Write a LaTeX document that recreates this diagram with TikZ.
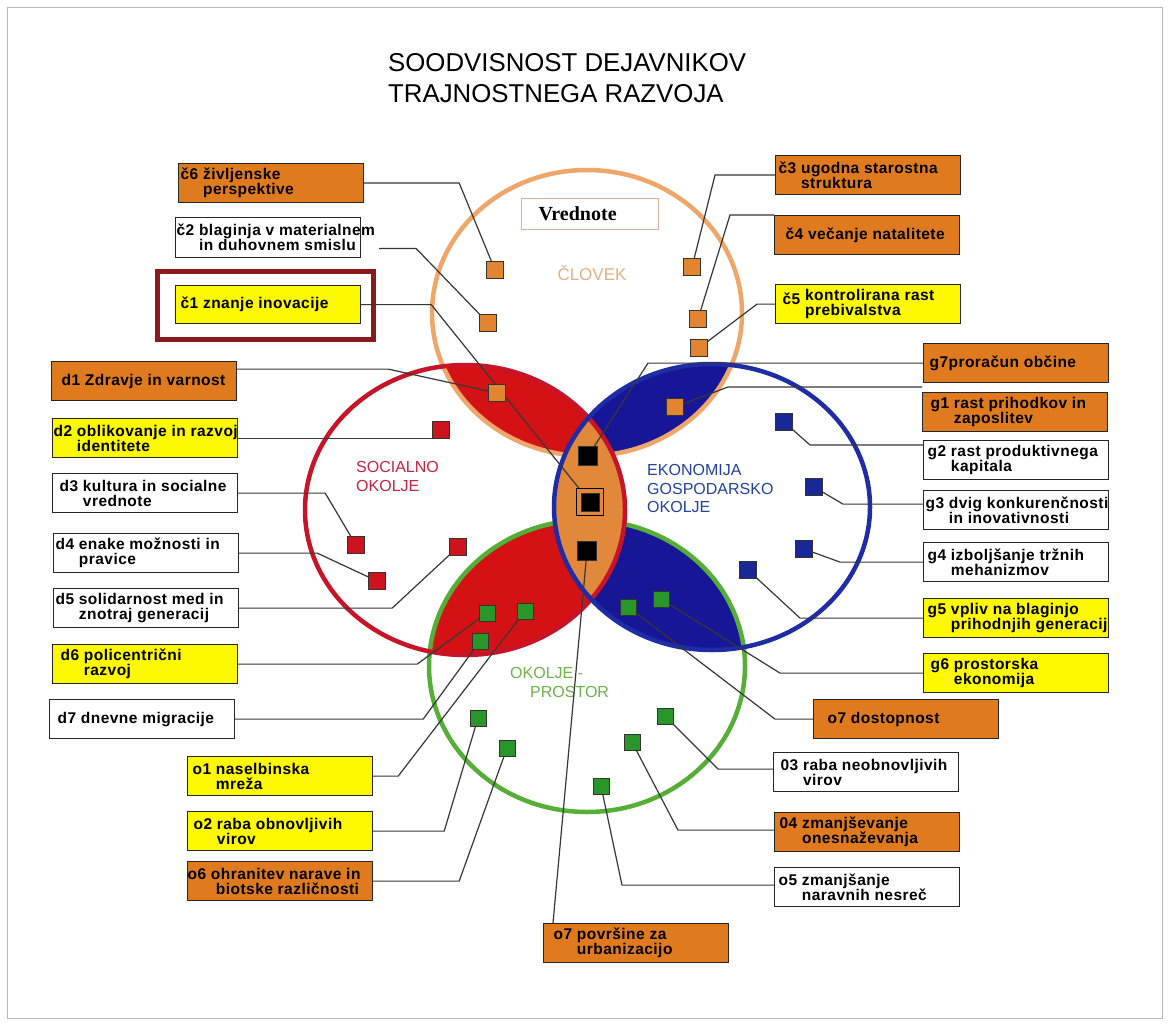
\documentclass[tikz,border=0pt]{standalone}
\usepackage{fontspec}
\setmainfont{Liberation Sans}
\newfontfamily\vrfont{Liberation Serif}
\newfontfamily\bxfont{Liberation Sans}[LetterSpace=3]
\usetikzlibrary{calc}
\definecolor{boxor}{RGB}{224,122,30}
\definecolor{boxye}{RGB}{252,248,0}
\definecolor{sqor}{RGB}{226,132,48}
\definecolor{lensred}{RGB}{212,18,22}
\definecolor{lensblue}{RGB}{22,22,150}
\definecolor{lensor}{RGB}{226,136,58}
\definecolor{ringor}{RGB}{240,165,105}
\definecolor{ringred}{RGB}{200,20,40}
\definecolor{ringblue}{RGB}{30,45,165}
\definecolor{ringgreen}{RGB}{85,175,55}
\definecolor{sqgreen}{RGB}{40,150,40}
\definecolor{sqred}{RGB}{205,20,30}
\definecolor{sqblue}{RGB}{25,40,150}
\definecolor{txtor}{RGB}{226,176,136}
\definecolor{txtred}{RGB}{200,35,65}
\definecolor{txtblue}{RGB}{35,65,165}
\definecolor{txtgreen}{RGB}{110,180,75}
\definecolor{framered}{RGB}{140,25,30}
\definecolor{vrline}{RGB}{222,175,155}
\definecolor{conn}{RGB}{55,55,55}

\newcommand{\boxtwo}[4]{\makebox[185pt][l]{\hspace*{#1pt}\vbox{\hsize=300pt\parindent=0pt\baselineskip=15pt\lineskiplimit=-50pt\leavevmode #2 #3\par\leavevmode\hphantom{#2 }#4\par}}}
\newcommand{\boxone}[2]{\makebox[185pt][l]{\hspace*{#1pt}#2}}

\tikzset{
  bx/.style={draw=black!85, line width=1.2pt, inner sep=0pt, anchor=north west,
    minimum width=185pt, minimum height=39pt, font=\bxfont\bfseries\fontsize{15.5}{15}\selectfont},
  cn/.style={draw=conn, line width=1.2pt},
  sq/.style={draw=black!80, line width=0.9pt, minimum size=17pt, inner sep=0pt},
  ring/.style={line width=4.5pt},
  lbl/.style={anchor=base west, font=\fontsize{16}{18}\selectfont, inner sep=0pt}
}

\begin{document}
\begin{tikzpicture}[x=1pt,y=-1pt]
\useasboundingbox (0,0) rectangle (1169,1024);
\fill[white] (0,0) rectangle (1169,1024);
\draw[gray!55, line width=1pt] (7,8) rectangle (1162,1018);

% ---- lens fills ----
\begin{scope}\clip (587,313) ellipse [x radius=155pt, y radius=143pt];
  \fill[lensred] (465,510) ellipse [x radius=160pt, y radius=145pt];
  \fill[lensblue] (712,507) ellipse [x radius=158pt, y radius=143pt];
\end{scope}
\begin{scope}\clip (587,666) ellipse [x radius=158pt, y radius=146pt];
  \fill[lensred] (465,510) ellipse [x radius=160pt, y radius=145pt];
  \fill[lensblue] (712,507) ellipse [x radius=158pt, y radius=143pt];
\end{scope}
\draw[ring, ringor] (587,313) ellipse [x radius=155pt, y radius=143pt];
\draw[ring, ringgreen] (587,666) ellipse [x radius=158pt, y radius=146pt];
\begin{scope}\clip (465,510) ellipse [x radius=160pt, y radius=145pt];
  \fill[lensor] (712,507) ellipse [x radius=158pt, y radius=143pt];
\end{scope}
\draw[ring, ringred] (465,510) ellipse [x radius=160pt, y radius=145pt];
\draw[ring, ringblue] (712,507) ellipse [x radius=158pt, y radius=143pt];

% ---- title ----
\node[anchor=base west, inner sep=0pt, font=\fontsize{25.8}{30}\selectfont] (t1) at (388,72) {SOODVISNOST DEJAVNIKOV};
\node[anchor=base west, inner sep=0pt, font=\fontsize{25.8}{30}\selectfont] (t2) at (388,103) {TRAJNOSTNEGA RAZVOJA};

% ---- circle labels ----
\node[draw=vrline, line width=1pt, anchor=north west, minimum width=137pt, minimum height=31pt, inner sep=0pt, fill=white] (vr) at (521,198)
  {\makebox[137pt][l]{\hspace*{17pt}\vrfont\bfseries\fontsize{20}{22}\selectfont Vrednote}};
\node[anchor=base, inner sep=0pt, text=txtor, font=\fontsize{17}{19}\selectfont] (clovek) at (592,280) {ČLOVEK};
\node[lbl, text=txtred] (so1) at (356,472) {SOCIALNO};
\node[lbl, text=txtred] (so2) at (356,491) {OKOLJE};
\node[lbl, text=txtblue] (ek1) at (647,475) {EKONOMIJA};
\node[lbl, text=txtblue] (ek2) at (647,494) {GOSPODARSKO};
\node[lbl, text=txtblue] (ek3) at (647,512) {OKOLJE};
\node[lbl, text=txtgreen] (ok1) at (510,678) {OKOLJE -};
\node[lbl, text=txtgreen] (ok2) at (530,697) {PROSTOR};

% ---- boxes ----
\draw[framered, line width=5pt] (157,271) rectangle (373,339);
\node[bx, fill=boxor] (c6) at (178,163) {\boxtwo{2}{č6}{življenske}{perspektive}};
\node[bx, fill=white, minimum height=40pt] (c2) at (175,217) {\boxtwo{1}{č2}{blaginja v materialnem}{in duhovnem smislu}};
\node[bx, fill=boxye, minimum height=38pt] (c1) at (175,285) {\boxone{5}{č1 znanje inovacije}};
\node[bx, fill=boxor] (c3) at (775,155) {\boxtwo{3}{č3}{ugodna starostna}{struktura}};
\node[bx, fill=boxor] (c4) at (774,215) {\boxone{11}{č4 večanje natalitete}};
\node[bx, fill=boxye] (c5) at (775,284) {\makebox[185pt][l]{\hspace*{7pt}\raisebox{-4pt}{č5} \vtop{\hsize=200pt\parindent=0pt\baselineskip=15pt\lineskiplimit=-50pt\leavevmode kontrolirana rast\par\leavevmode prebivalstva\par}}};
\node[bx, fill=boxor] (g7) at (923,343) {\boxone{6}{g7proračun občine}};
\node[bx, fill=boxor] (g1) at (922,392) {\boxtwo{8}{g1}{rast prihodkov in}{zaposlitev}};
\node[bx, fill=white] (g2) at (923,440) {\boxtwo{4}{g2}{rast produktivnega}{kapitala}};
\node[bx, fill=white] (g3) at (923,490) {\boxtwo{2}{g3}{dvig konkurenčnosti}{in inovativnosti}};
\node[bx, fill=white] (g4) at (923,542) {\boxtwo{4}{g4}{izboljšanje tržnih}{mehanizmov}};
\node[bx, fill=boxye] (g5) at (923,598) {\boxtwo{4}{g5}{vpliv na blaginjo}{prihodnjih generacij}};
\node[bx, fill=boxye] (g6) at (923,653) {\boxtwo{7}{g6}{prostorska}{ekonomija}};
\node[bx, fill=boxor] (o7d) at (813,699) {\boxone{14}{o7 dostopnost}};
\node[bx, fill=boxor] (d1) at (51,361) {\boxone{10}{d1 Zdravje in varnost}};
\node[bx, fill=boxye] (d2) at (52,418) {\boxtwo{1}{d2}{oblikovanje in razvoj}{identitete}};
\node[bx, fill=white] (d3) at (52,473) {\boxtwo{7}{d3}{kultura in socialne}{vrednote}};
\node[bx, fill=white] (d4) at (53,533) {\boxtwo{2}{d4}{enake možnosti in}{pravice}};
\node[bx, fill=white] (d5) at (53,588) {\boxtwo{2}{d5}{solidarnost med in}{znotraj generacij}};
\node[bx, fill=boxye] (d6) at (52,644) {\boxtwo{8}{d6}{policentrični}{razvoj}};
\node[bx, fill=white] (d7) at (49,699) {\boxone{8}{d7 dnevne migracije}};
\node[bx, fill=boxye] (o1) at (187,756) {\boxtwo{5}{o1}{naselbinska}{mreža}};
\node[bx, fill=boxye] (o2) at (187,811) {\boxtwo{6}{o2}{raba obnovljivih}{virov}};
\node[bx, fill=boxor] (o6) at (187,861) {\boxtwo{0}{o6}{ohranitev narave in}{\hspace*{5pt}biotske različnosti}};
\node[bx, fill=white] (o3) at (773,752) {\boxtwo{7}{03}{raba neobnovljivih}{virov}};
\node[bx, fill=boxor] (o4) at (774,812) {\boxtwo{5}{04}{zmanjševanje}{onesnaževanja}};
\node[bx, fill=white] (o5) at (774,867) {\boxtwo{4}{o5}{zmanjšanje}{naravnih nesreč}};
\node[bx, fill=boxor] (o7p) at (543,923) {\boxtwo{10}{o7}{površine za}{urbanizacijo}};

% ---- square anchors ----
\path (495,270) coordinate (c6s) (488,323) coordinate (c2s) (692,267) coordinate (c3s)
      (698,319) coordinate (c4s) (699,348) coordinate (c5s) (497,393) coordinate (d1s)
      (675,407) coordinate (g1s) (441,430) coordinate (d2s) (356,545) coordinate (d3s)
      (377,581) coordinate (d4s) (458,547) coordinate (d5s) (784,422) coordinate (g2s)
      (814,487) coordinate (g3s) (804,549) coordinate (g4s) (748,570) coordinate (g5s)
      (487,613) coordinate (d6s) (525,611) coordinate (o1s) (480,641) coordinate (d7s)
      (628,607) coordinate (o7ds) (661,599) coordinate (g6s) (665,716) coordinate (o3s)
      (632,742) coordinate (o4s) (601,786) coordinate (o5s) (478,718) coordinate (o2s)
      (507,748) coordinate (o6s) (588,456) coordinate (g7s) (590,502) coordinate (c1s)
      (587,551) coordinate (o7ps);

% ---- connectors ----
\draw[cn] (c6.east) -- ++(95,0) -- (c6s);
\draw[cn] ([xshift=18pt,yshift=-11pt]c2.east) -- ++(37,0) -- (c2s);
\draw[cn] (c1.east) -- ++(70,0) -- (c1s);
\draw[cn] (c3.west) -- ++(-60,0) -- (c3s);
\draw[cn] (c4.north west) -- ++(-44,0) -- (c4s);
\draw[cn] (c5.west) -- ++(-18,0) -- (c5s);
\draw[cn] (g7.west) -- ++(-275,0) -- (g7s);
\draw[cn] ([yshift=5pt]g1.north west) -- ++(-194,0) -- (g1s);
\draw[cn] ([yshift=-5pt]g2.north west) -- ++(-113,0) -- (g2s);
\draw[cn] ([yshift=6pt]g3.west) -- ++(-80,0) -- (g3s);
\draw[cn] (g4.west) -- ++(-83,0) -- (g4s);
\draw[cn] (g5.west) -- ++(-123,0) -- (g5s);
\draw[cn] (g6.west) -- ++(-143,0) -- (g6s);
\draw[cn] (o7d.west) -- ++(-38,0) -- (o7ds);
\draw[cn] ([yshift=3pt]o3.west) -- ++(-55,0) -- (o3s);
\draw[cn] ([yshift=2pt]o4.west) -- ++(-96,0) -- (o4s);
\draw[cn] ([yshift=2pt]o5.west) -- ++(-152,0) -- (o5s);
\draw[cn] ([xshift=10pt]o7p.north west) -- (o7ps);
\draw[cn] ([yshift=12pt]d1.east) -- ++(151,0) -- (d1s);
\draw[cn] (d2.east) -- (d2.east -| d2s);
\draw[cn] (d3.east) -- ++(87,0) -- (d3s);
\draw[cn] (d4.east) -- ++(78,0) -- (d4s);
\draw[cn] (d5.east) -- ++(153,0) -- (d5s);
\draw[cn] (d6.east) -- ++(179,0) -- (d6s);
\draw[cn] (d7.east) -- ++(188,0) -- (d7s);
\draw[cn] (o1.east) -- ++(25,0) -- (o1s);
\draw[cn] (o2.east) -- ++(71,0) -- (o2s);
\draw[cn] (o6.east) -- ++(86,0) -- (o6s);

% ---- squares ----
\node[sq, fill=sqor] (c6q) at (c6s) {};
\node[sq, fill=sqor] (c2q) at (c2s) {};
\node[sq, fill=sqor] (c3q) at (c3s) {};
\node[sq, fill=sqor] (c4q) at (c4s) {};
\node[sq, fill=sqor] (c5q) at (c5s) {};
\node[sq, fill=sqor] (d1q) at (d1s) {};
\node[sq, fill=sqor] (g1q) at (g1s) {};
\node[sq, fill=sqred] (d2q) at (d2s) {};
\node[sq, fill=sqred] (d3q) at (d3s) {};
\node[sq, fill=sqred] (d4q) at (d4s) {};
\node[sq, fill=sqred] (d5q) at (d5s) {};
\node[sq, fill=sqblue] (g2q) at (g2s) {};
\node[sq, fill=sqblue] (g3q) at (g3s) {};
\node[sq, fill=sqblue] (g4q) at (g4s) {};
\node[sq, fill=sqblue] (g5q) at (g5s) {};
\node[sq, fill=sqgreen, minimum size=16pt] (d6q) at (d6s) {};
\node[sq, fill=sqgreen, minimum size=16pt] (o1q) at (o1s) {};
\node[sq, fill=sqgreen, minimum size=16pt] (d7q) at (d7s) {};
\node[sq, fill=sqgreen, minimum size=16pt] (o7dq) at (o7ds) {};
\node[sq, fill=sqgreen, minimum size=16pt] (g6q) at (g6s) {};
\node[sq, fill=sqgreen, minimum size=16pt] (o3q) at (o3s) {};
\node[sq, fill=sqgreen, minimum size=16pt] (o4q) at (o4s) {};
\node[sq, fill=sqgreen, minimum size=16pt] (o5q) at (o5s) {};
\node[sq, fill=sqgreen, minimum size=16pt] (o2q) at (o2s) {};
\node[sq, fill=sqgreen, minimum size=16pt] (o6q) at (o6s) {};
\node[sq, fill=black, minimum size=19pt] (g7q) at (g7s) {};
\node[sq, draw=black, fill=lensor, line width=1pt, minimum size=27pt] (c1o) at (c1s) {};
\node[sq, fill=black, minimum size=18pt] (c1q) at (c1s) {};
\node[sq, fill=black, minimum size=19pt] (o7pq) at (o7ps) {};
\end{tikzpicture}
\end{document}
